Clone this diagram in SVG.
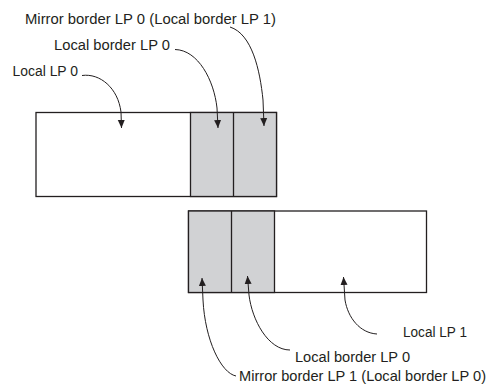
<svg xmlns="http://www.w3.org/2000/svg" width="494" height="389" viewBox="0 0 494 389">
<style>
.box{fill:#fff;stroke:#231f20;stroke-width:1.3}
.gray{fill:#d1d2d4;stroke:#231f20;stroke-width:1.3}
.div{stroke:#231f20;stroke-width:1.3;fill:none}
.lead{fill:none;stroke:#231f20;stroke-width:1}
text{font-family:"Liberation Sans",Arial,sans-serif;font-size:15.5px;fill:#231f20}
text.sm{font-size:14.5px}
</style>
<defs>
<marker id="ah" viewBox="0 0 8 8" refX="8" refY="4" markerWidth="8" markerHeight="8" markerUnits="userSpaceOnUse" orient="auto">
<path d="M0,0.5 L8,4 L0,7.5 z" fill="#231f20"/>
</marker>
</defs>
<g id="top-partition">
<rect class="box" x="36" y="112.5" width="240.5" height="84"/>
<rect class="gray" x="190.5" y="112.5" width="86" height="84"/>
<line class="div" x1="233.5" y1="112.5" x2="233.5" y2="196.5"/>
</g>
<g id="bottom-partition">
<rect class="box" x="188.5" y="211" width="238" height="81.5"/>
<rect class="gray" x="188.5" y="211" width="86" height="81.5"/>
<line class="div" x1="231.5" y1="211" x2="231.5" y2="292.5"/>
</g>
<g id="labels">
<text x="25" y="24" textLength="251" lengthAdjust="spacingAndGlyphs">Mirror border LP 0 (Local border LP 1)</text>
<text x="54" y="50" textLength="116" lengthAdjust="spacingAndGlyphs">Local border LP 0</text>
<text x="12.5" y="76" textLength="65.5" lengthAdjust="spacingAndGlyphs">Local LP 0</text>
<text x="403" y="337" textLength="64" lengthAdjust="spacingAndGlyphs">Local LP 1</text>
<text x="295" y="361.5" textLength="115" lengthAdjust="spacingAndGlyphs">Local border LP 0</text>
<text class="sm" x="239" y="381" textLength="247" lengthAdjust="spacingAndGlyphs">Mirror border LP 1 (Local border LP 0)</text>
</g>
<g id="connectors">
<path class="lead" d="M82,75.5 C100,73 118,88 121,112 L121.5,128" marker-end="url(#ah)"/>
<path class="lead" d="M175,49.5 C198,50 214,80 217,108 L218,128" marker-end="url(#ah)"/>
<path class="lead" d="M230,27 C252,34 260,70 263,100 L264,126" marker-end="url(#ah)"/>
<path class="lead" d="M236,376 C221,373 205,340 203,300 L202,278" marker-end="url(#ah)"/>
<path class="lead" d="M290,350 C268,350 252,320 249,295 L247.5,276" marker-end="url(#ah)"/>
<path class="lead" d="M377,334 C360,333 348,318 345,300 L343.5,277" marker-end="url(#ah)"/>
</g>
</svg>
